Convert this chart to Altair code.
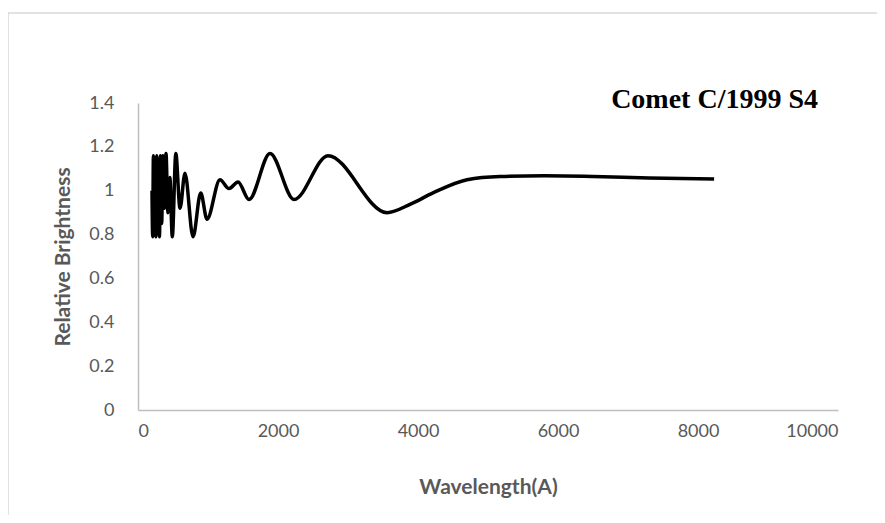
import altair as alt
import pandas as pd

# Data (wavelength in Å, relative brightness)
wavelength = [200, 210, 220, 232, 244, 256, 268, 281, 294, 307, 320, 338, 356, 376,
              400, 428, 455, 490, 540, 600, 671, 786, 896, 986, 1171, 1300, 1429,
              1586, 1886, 2230, 2714, 3557, 3900, 4214, 4700, 5170, 5800, 6500,
              7300, 8230]
brightness = [1.00, 0.79, 1.16, 0.80, 1.06, 0.79, 1.16, 0.81, 1.05, 0.79, 1.16, 0.85,
              1.16, 0.92, 1.17, 0.90, 1.06, 0.79, 1.17, 0.92, 1.08, 0.79, 0.99, 0.87,
              1.05, 1.01, 1.04, 0.96, 1.17, 0.96, 1.16, 0.90, 0.94, 0.99, 1.05, 1.065,
              1.068, 1.065, 1.058, 1.053]

x_ticks = [0, 2000, 4000, 6000, 8000, 10000]
y_ticks = [0, 0.2, 0.4, 0.6, 0.8, 1.0, 1.2, 1.4]
chart_title = ["Comet C/1999 S4"]

df = pd.DataFrame({"w": wavelength, "b": brightness})

line = alt.Chart(df).mark_line(color="black", strokeWidth=3.5, interpolate="monotone").encode(
    x=alt.X("w:Q", scale=alt.Scale(domain=[0, 10000], nice=False),
            axis=alt.Axis(values=x_ticks, format="d", title="Wavelength(A)",
                          labelPadding=12, titlePadding=36)),
    y=alt.Y("b:Q", scale=alt.Scale(domain=[0, 1.4], nice=False),
            axis=alt.Axis(values=y_ticks, format="~g", title="Relative Brightness",
                          labelPadding=24, titlePadding=15)),
)

frame = alt.Chart(pd.DataFrame({"a": [0]})).mark_rect(
    fillOpacity=0, stroke="#d9d9d9", strokeWidth=1.5, clip=False
).encode(x=alt.value(-130), x2=alt.value(900), y=alt.value(-90), y2=alt.value(600))

title = alt.Chart(pd.DataFrame({"t": chart_title})).mark_text(
    font="Liberation Serif", fontWeight="bold", fontSize=28, align="right",
    baseline="alphabetic", color="black"
).encode(text="t:N", x=alt.value(680), y=alt.value(5))

chart = alt.layer(frame, line, title).properties(
    width=700, height=307,
    autosize=alt.AutoSizeParams(type="none"),
    padding={"left": 130, "top": 95, "right": 39, "bottom": 105},
).configure_view(strokeWidth=0).configure_axis(
    grid=False, ticks=False, tickSize=0,
    domainColor="#bfbfbf", domainWidth=1.5,
    labelColor="#595959", labelFont="Lato", labelFontSize=18,
    titleColor="#595959", titleFont="Lato", titleFontSize=21, titleFontWeight="bold",
)

chart.save("out.html", embed_options={"renderer": "svg", "actions": False})
